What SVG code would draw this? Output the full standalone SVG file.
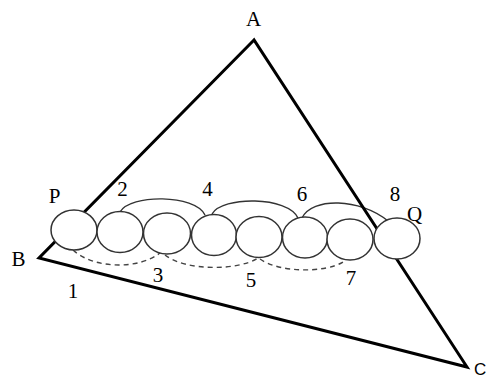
<svg xmlns="http://www.w3.org/2000/svg" width="489" height="378" viewBox="0 0 489 378">
<style>
.lbl{font-family:"Liberation Serif","Times New Roman",serif;font-size:21px;fill:#000;text-anchor:middle}
.sans{font-family:"Liberation Sans",Arial,sans-serif;font-size:17px;fill:#000}
.tri{fill:none;stroke:#000;stroke-width:3;stroke-linejoin:miter}
.ball{fill:#fff;stroke:#333;stroke-width:1.5}
.arc{fill:none;stroke:#333;stroke-width:1.4}
.dash{fill:none;stroke:#444;stroke-width:1.4;stroke-dasharray:5 4}
</style>
<rect width="489" height="378" fill="#fff"/>
<g id="connectors">
<path class="arc" d="M120 212 C130 194 195 194 205 215"/>
<path class="arc" d="M212 214 C222 196 288 196 298 218"/>
<path class="arc" d="M302 218 C312 197 360 198 388 221"/>
<path class="dash" d="M73 250 C95 270 140 269 160 253"/>
<path class="dash" d="M165 255 C185 271 238 271 258 258"/>
<path class="dash" d="M260 259 C280 273 325 273 343 262"/>
</g>
<g id="triangle">
<path class="tri" d="M254 40 L39 258 L467 367 Z"/>
</g>
<g id="ball1"><ellipse class="ball" cx="74" cy="230" rx="23" ry="20"/></g>
<g id="ball2"><ellipse class="ball" cx="120" cy="232" rx="23" ry="20.5"/></g>
<g id="ball3"><ellipse class="ball" cx="167" cy="233.5" rx="23.5" ry="20.5"/></g>
<g id="ball4"><ellipse class="ball" cx="214" cy="235" rx="22.5" ry="20.5"/></g>
<g id="ball5"><ellipse class="ball" cx="259" cy="237" rx="23" ry="20.5"/></g>
<g id="ball6"><ellipse class="ball" cx="305" cy="237.5" rx="22.5" ry="20.5"/></g>
<g id="ball7"><ellipse class="ball" cx="350" cy="239.5" rx="23" ry="20.5"/></g>
<g id="ball8"><ellipse class="ball" cx="397" cy="238.5" rx="23" ry="20.5"/></g>
<g id="labels">
<text class="lbl" x="253.5" y="26">A</text>
<text class="lbl" x="54.5" y="203">P</text>
<text class="lbl" x="18.5" y="266">B</text>
<text class="lbl" x="73" y="298">1</text>
<text class="lbl" x="122.5" y="196">2</text>
<text class="lbl" x="158" y="282">3</text>
<text class="lbl" x="207.5" y="196">4</text>
<text class="lbl" x="251" y="287">5</text>
<text class="lbl" x="302" y="201">6</text>
<text class="lbl" x="351" y="285">7</text>
<text class="lbl" x="395" y="201">8</text>
<text class="lbl" x="414.5" y="221">Q</text>
<text class="sans" x="474" y="375">C</text>
</g>
</svg>
